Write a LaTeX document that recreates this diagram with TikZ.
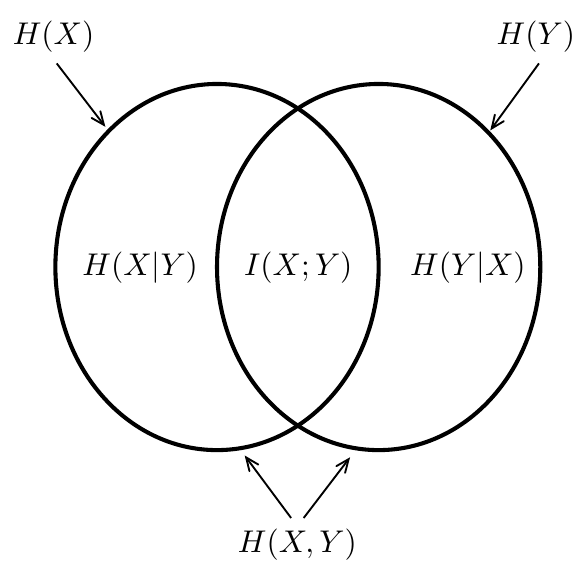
\documentclass[tikz,border=0pt]{standalone}
\usepackage{amsmath,amssymb}
\usepackage{tikz}
\usetikzlibrary{arrows,positioning,calc}

\begin{document}
\begin{tikzpicture}[>=angle 45]
  \useasboundingbox (0,0) rectangle (6.45,-6.34);

  % 二つの集合
  \draw[line width=1.3pt] (2.43,-2.99) ellipse (1.81cm and 2.05cm);
  \draw[line width=1.3pt] (4.24,-2.99) ellipse (1.81cm and 2.05cm);

  % 領域のラベル
  \node (hxgy) at (1.57,-3.00) {$H(X|Y)$};
  \node (ixy) at (3.34,-3.00) {$I(X;Y)$};
  \node (hygx) at (5.24,-3.00) {$H(Y|X)$};

  % 外側のラベル
  \node (hx) at (0.60,-0.41) {$H(X)$};
  \node (hy) at (6.00,-0.41) {$H(Y)$};
  \node (hxy) at (3.33,-6.10) {$H(X,Y)$};

  % 矢印の先
  \coordinate (tipx) at (1.18,-1.42);
  \coordinate (tipy) at (5.49,-1.46);
  \coordinate (tipl) at (2.74,-5.10);
  \coordinate (tipr) at (3.92,-5.12);

  % 矢印
  \draw[->,line width=0.6pt] ([xshift=1pt]hx.south) -- (tipx);
  \draw[->,line width=0.6pt] ([xshift=1pt]hy.south) -- (tipy);
  \draw[->,line width=0.6pt] ([xshift=-2pt]hxy.north) -- (tipl);
  \draw[->,line width=0.6pt] ([xshift=2pt]hxy.north) -- (tipr);
\end{tikzpicture}
\end{document}
